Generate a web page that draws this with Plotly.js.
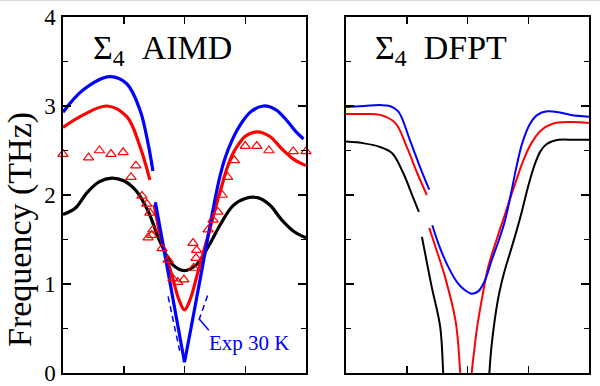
<!DOCTYPE html>
<html>
<head>
<meta charset="utf-8">
<script src="https://cdn.plot.ly/plotly-3.0.1.min.js"></script>
<style>html,body{margin:0;padding:0;background:#fff;}#chart{width:600px;height:386px;}</style>
</head>
<body>
<div id="chart"></div>
<script>
// ---------- AIMD panel (left) ----------
const aimdBlueUpX = [0, 0.33, 0.77, 1.05, 1.27, 1.40, 1.48];
const aimdBlueUpY = [2.93, 3.18, 3.33, 3.25, 2.95, 2.58, 2.27];
const aimdBlueVLeftX = [1.52, 1.66, 1.80, 2.0];
const aimdBlueVLeftY = [1.92, 1.40, 0.85, 0.12];
const aimdBlueRightX = [2.0, 2.12, 2.24, 2.36, 2.47, 2.58, 2.66, 2.78, 2.91, 3.1, 3.3, 3.5, 3.68, 3.85, 3.96];
const aimdBlueRightY = [0.12, 0.55, 0.99, 1.43, 1.84, 2.2, 2.4, 2.61, 2.78, 2.94, 3.0, 2.96, 2.84, 2.70, 2.63];

const aimdRedUpX = [0, 0.335, 0.72, 1.05, 1.27, 1.43];
const aimdRedUpY = [2.76, 2.90, 3.0, 2.88, 2.54, 2.17];
const aimdRedLowX = [1.5, 1.6, 1.7, 1.8, 1.9, 2.0, 2.1, 2.2, 2.3, 2.4, 2.5, 2.6, 2.7, 2.8, 2.9, 3.0, 3.2, 3.4, 3.6, 3.8, 4.0];
const aimdRedLowY = [1.89, 1.55, 1.31, 1.08, 0.84, 0.71, 0.84, 1.08, 1.33, 1.57, 1.83, 2.07, 2.3, 2.47, 2.58, 2.66, 2.71, 2.66, 2.52, 2.4, 2.33];

const aimdBlackX = [0, 0.2, 0.4, 0.6, 0.8, 1.0, 1.2, 1.4, 1.6, 1.8, 2.0, 2.2, 2.4, 2.6, 2.8, 3.0, 3.2, 3.4, 3.6, 3.8, 4.0];
const aimdBlackY = [1.78, 1.85, 2.03, 2.15, 2.19, 2.16, 2.05, 1.82, 1.47, 1.22, 1.15, 1.22, 1.43, 1.68, 1.88, 1.96, 1.97, 1.89, 1.72, 1.59, 1.52];

const expTriX = [0, 0.42, 0.6, 0.79, 0.99, 1.12, 1.2, 1.3, 1.38, 1.43, 1.48, 1.40, 1.46, 1.63, 1.73, 1.81, 1.89, 1.99, 2.14, 2.2, 2.19, 2.15, 2.39, 2.47, 2.55, 2.62, 2.71, 2.82, 3.0, 3.19, 3.39, 3.79, 4.0];
const expTriY = [2.46, 2.42, 2.5, 2.46, 2.48, 2.2, 2.33, 1.99, 1.9, 1.8, 1.61, 1.52, 1.55, 1.4, 1.27, 1.06, 1.02, 1.05, 1.46, 1.38, 1.29, 1.18, 1.61, 1.72, 1.81, 2.0, 2.2, 2.39, 2.55, 2.55, 2.5, 2.49, 2.49];

const exp30LeftX = [1.73, 1.92];
const exp30LeftY = [0.86, 0.25];
const exp30RightX = [2.38, 2.22];
const exp30RightY = [0.87, 0.56];
const exp30LeaderX = [2.25, 2.40];
const exp30LeaderY = [0.60, 0.48];

// ---------- DFPT panel (right) ----------
const dfptBlueUpX = [0, 0.3, 0.56, 0.72, 0.86, 1.05, 1.22, 1.37];
const dfptBlueUpY = [2.99, 3.0, 3.01, 3.0, 2.94, 2.62, 2.31, 2.06];
const dfptBlueLowX = [1.42, 1.55, 1.7, 1.84, 1.96, 2.07, 2.18, 2.28, 2.4, 2.52, 2.62, 2.72, 2.81, 2.9, 3.03, 3.15, 3.31, 3.5, 3.7, 4.0];
const dfptBlueLowY = [1.66, 1.4, 1.17, 1.01, 0.93, 0.89, 0.92, 1.03, 1.27, 1.5, 1.72, 2.03, 2.33, 2.58, 2.8, 2.9, 2.94, 2.93, 2.9, 2.88];

const dfptRedUpX = [0, 0.3, 0.56, 0.81, 1.0, 1.17, 1.33];
const dfptRedUpY = [2.91, 2.91, 2.9, 2.81, 2.54, 2.25, 2.0];
const dfptRedLeftX = [1.37, 1.5, 1.63, 1.8, 1.85, 1.88, 1.9];
const dfptRedLeftY = [1.63, 1.36, 1.08, 0.6, 0.3, 0.0, -0.3];
const dfptRedRightX = [2.05, 2.07, 2.11, 2.16, 2.25, 2.34, 2.48, 2.62, 2.77, 2.92, 3.05, 3.2, 3.4, 3.69, 4.0];
const dfptRedRightY = [-0.3, 0.0, 0.25, 0.52, 0.88, 1.19, 1.5, 1.79, 2.1, 2.39, 2.58, 2.72, 2.8, 2.82, 2.81];

const dfptBlackUpX = [0, 0.3, 0.56, 0.76, 0.94, 1.1, 1.2];
const dfptBlackUpY = [2.6, 2.58, 2.54, 2.47, 2.25, 1.98, 1.81];
const dfptBlackLeftX = [1.25, 1.41, 1.55, 1.6, 1.62];
const dfptBlackLeftY = [1.53, 0.97, 0.52, 0.0, -0.3];
const dfptBlackRightX = [2.34, 2.36, 2.4, 2.5, 2.6, 2.7, 2.8, 2.9, 3.0, 3.1, 3.2, 3.3, 3.5, 3.75, 4.0];
const dfptBlackRightY = [-0.3, 0.0, 0.33, 0.82, 1.12, 1.35, 1.58, 1.83, 2.1, 2.33, 2.49, 2.57, 2.62, 2.62, 2.62];

const yTickVals = [0, 1, 2, 3, 4];
const yTickText = ['0', '1', '2', '3', '4'];
const xTickVals = [1, 2, 3];

const BLUE = '#0000ff', RED = '#ff0000', BLACK = '#000000';

function line(x, y, color, width, xa, ya, shape, dash) {
  return {x: x, y: y, type: 'scatter', mode: 'lines', xaxis: xa, yaxis: ya,
    line: {color: color, width: width, shape: shape || 'spline', smoothing: 1, dash: dash || 'solid'},
    hoverinfo: 'skip', showlegend: false};
}

const traces = [
  line(exp30LeftX, exp30LeftY, BLUE, 1.5, 'x', 'y', 'linear', '6px,4px'),
  line(exp30RightX, exp30RightY, BLUE, 1.5, 'x', 'y', 'linear', '6px,4px'),
  line(exp30LeaderX, exp30LeaderY, BLUE, 1.5, 'x', 'y', 'linear'),
  line(aimdBlackX, aimdBlackY, BLACK, 3.2, 'x', 'y'),
  line(aimdRedUpX, aimdRedUpY, RED, 3.2, 'x', 'y'),
  line(aimdRedLowX, aimdRedLowY, RED, 3.2, 'x', 'y'),
  line(aimdBlueUpX, aimdBlueUpY, BLUE, 3.2, 'x', 'y'),
  line(aimdBlueVLeftX, aimdBlueVLeftY, BLUE, 3.2, 'x', 'y', 'linear'),
  line(aimdBlueRightX, aimdBlueRightY, BLUE, 3.2, 'x', 'y'),
  {x: expTriX, y: expTriY, type: 'scatter', mode: 'markers', xaxis: 'x', yaxis: 'y',
   cliponaxis: false, hoverinfo: 'skip', showlegend: false,
   marker: {symbol: 'triangle-up-open', size: 9, color: RED, line: {color: RED, width: 1.2}}},

  line(dfptBlackUpX, dfptBlackUpY, BLACK, 2, 'x2', 'y2'),
  line(dfptBlackLeftX, dfptBlackLeftY, BLACK, 2, 'x2', 'y2'),
  line(dfptBlackRightX, dfptBlackRightY, BLACK, 2, 'x2', 'y2'),
  line(dfptRedUpX, dfptRedUpY, RED, 2, 'x2', 'y2'),
  line(dfptRedLeftX, dfptRedLeftY, RED, 2, 'x2', 'y2'),
  line(dfptRedRightX, dfptRedRightY, RED, 2, 'x2', 'y2'),
  line(dfptBlueUpX, dfptBlueUpY, BLUE, 2, 'x2', 'y2'),
  line(dfptBlueLowX, dfptBlueLowY, BLUE, 2, 'x2', 'y2')
];

const yDomain = [13/386, 369/386];
function xAxis(domain, anchor) {
  return {domain: domain, anchor: anchor, range: [0, 4], tickvals: xTickVals, showticklabels: false,
    ticks: 'inside', ticklen: 7, tickwidth: 1.5, tickcolor: BLACK,
    showline: true, linecolor: BLACK, linewidth: 1.6, mirror: 'ticks',
    showgrid: false, zeroline: false, fixedrange: true};
}
function yAxis(anchor, labels) {
  return {domain: yDomain, anchor: anchor, range: [0, 4], tickvals: yTickVals, ticktext: yTickText,
    showticklabels: labels, ticks: 'inside', ticklen: 8, tickwidth: 1.5, tickcolor: BLACK,
    minor: {dtick: 0.5, ticks: 'inside', ticklen: 5, tickwidth: 1.5, tickcolor: BLACK},
    tickfont: {family: 'Liberation Serif, serif', size: 23, color: BLACK},
    ticklabelstandoff: 1, ticklabeloverflow: 'allow',
    showline: true, linecolor: BLACK, linewidth: 1.6, mirror: 'ticks',
    showgrid: false, zeroline: false, fixedrange: true};
}

const layout = {
  width: 600, height: 386,
  margin: {l: 0, r: 0, t: 0, b: 0},
  paper_bgcolor: '#ffffff', plot_bgcolor: '#ffffff',
  font: {family: 'Liberation Serif, serif', color: BLACK},
  showlegend: false,
  xaxis: xAxis([63/600, 306/600], 'y'),
  yaxis: yAxis('x', true),
  xaxis2: xAxis([346/600, 589/600], 'y2'),
  yaxis2: yAxis('x2', false),
  shapes: [
    {type: 'line', xref: 'paper', yref: 'paper', x0: 0, x1: 1, y0: 1 - 0.5/386, y1: 1 - 0.5/386,
     line: {color: '#d8d8d8', width: 1}}
  ],
  annotations: [
    {xref: 'paper', yref: 'paper', x: 20/600, y: 1 - 230/386, xanchor: 'center', yanchor: 'middle',
     text: 'Frequency (THz)', textangle: -90, showarrow: false,
     font: {family: 'Liberation Serif, serif', size: 34, color: BLACK}},
    {xref: 'paper', yref: 'paper', x: 234/600, y: 1 - 50/386, xanchor: 'right', yanchor: 'middle',
     text: 'Σ<sub>4</sub>&nbsp;&nbsp;AIMD', showarrow: false,
     font: {family: 'Liberation Serif, serif', size: 34, color: BLACK}},
    {xref: 'paper', yref: 'paper', x: 509/600, y: 1 - 50/386, xanchor: 'right', yanchor: 'middle',
     text: 'Σ<sub>4</sub>&nbsp;&nbsp;DFPT', showarrow: false,
     font: {family: 'Liberation Serif, serif', size: 34, color: BLACK}},
    {xref: 'paper', yref: 'paper', x: 207/600, y: 1 - 343/386, xanchor: 'left', yanchor: 'middle',
     text: 'Exp 30 K', showarrow: false,
     font: {family: 'Liberation Serif, serif', size: 21, color: BLUE}}
  ]
};

Plotly.newPlot('chart', traces, layout, {staticPlot: true, displayModeBar: false});
</script>
</body>
</html>
